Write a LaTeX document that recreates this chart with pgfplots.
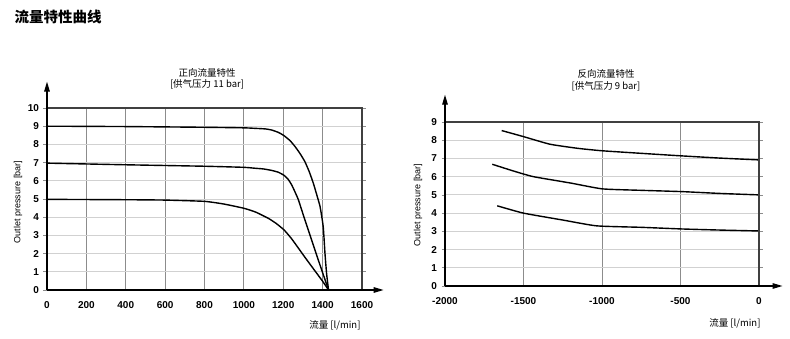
\documentclass[border=0pt]{standalone}
\usepackage{pgfplots}
\pgfplotsset{compat=1.18}
\usepackage{fontspec}
\setmainfont{Liberation Sans}
\newfontfamily\cjk{Noto Sans CJK SC}
\usetikzlibrary{arrows.meta}
\definecolor{vgrid}{gray}{0.55}
\definecolor{hgrid}{gray}{0.82}
\begin{document}
\begin{tikzpicture}
\useasboundingbox (0,0) rectangle (790pt,339pt);
\node[anchor=west, font={\fontsize{14.5}{16}\selectfont\cjk\bfseries}] at (11pt,322pt) {流量特性曲线};
% titles
\node[font={\fontsize{9.5}{11}\selectfont\cjk}] at (207pt,266pt) {正向流量特性};
\node[font={\fontsize{9.5}{11}\selectfont\cjk}] at (207pt,255pt) {[供气压力 11 bar]};
\node[font={\fontsize{9.5}{11}\selectfont\cjk}] at (606pt,265pt) {反向流量特性};
\node[font={\fontsize{9.5}{11}\selectfont\cjk}] at (606pt,253pt) {[供气压力 9 bar]};
% axis labels
\node[rotate=90, font={\fontsize{9}{11}\selectfont}] at (18pt,137pt) {Outlet pressure [bar]};
\node[rotate=90, font={\fontsize{9}{11}\selectfont}] at (418pt,134pt) {Outlet pressure [bar]};
\node[anchor=east, font={\fontsize{9.5}{11}\selectfont\cjk}] at (364pt,14pt) {流量 [l/min]};
\node[anchor=east, font={\fontsize{9.5}{11}\selectfont\cjk}] at (764pt,16pt) {流量 [l/min]};

\pgfplotsset{
  common/.style={
    scale only axis, clip=false,
    axis line style={draw=none},
    xmajorgrids, ymajorgrids,
    x grid style={vgrid, line width=0.8pt},
    y grid style={hgrid, line width=0.8pt},
    tick label style={font=\fontsize{10}{12}\selectfont\bfseries},
    tick align=outside,
    xtick style={draw=none},
    ytick style={vgrid, line width=0.6pt},
    major tick length=3.5pt,
    yticklabel style={xshift=-1pt},
    xticklabel style={yshift=-4pt},
    /pgf/number format/assume math mode=true,
    /pgf/number format/1000 sep={},
  },
  curve/.style={black, line width=1.4pt, smooth, tension=0.3},
}

\begin{axis}[common,
  at={(47pt,49pt)}, anchor=south west,
  width=315pt, height=182pt,
  xmin=0, xmax=1600, ymin=0, ymax=10,
  xtick={0,200,...,1600}, ytick={0,1,...,10},
  xticklabels={0,200,400,600,800,1000,1200,1400,1600},
  yticklabels={0,1,2,3,4,5,6,7,8,9,10},
]
\addplot[curve] coordinates {(0,9.0)(400,8.98)(800,8.94)(1000,8.91)(1060,8.88)(1110,8.85)(1141,8.79)(1175,8.66)(1204,8.48)(1235,8.2)(1260,7.88)(1285,7.5)(1310,7.05)(1332,6.5)(1353,5.86)(1371,5.2)(1387,4.58)(1403,3.48)(1412,2.0)(1420,0.92)(1430,0)};
\addplot[curve] coordinates {(0,6.97)(400,6.88)(800,6.8)(1000,6.74)(1056,6.69)(1100,6.65)(1141,6.57)(1175,6.47)(1204,6.3)(1225,6.08)(1243,5.77)(1260,5.38)(1277,4.95)(1310,3.85)(1344,2.75)(1378,1.65)(1430,0)};
\addplot[curve] coordinates {(0,4.98)(400,4.96)(600,4.94)(800,4.87)(900,4.72)(1000,4.49)(1060,4.28)(1124,3.94)(1165,3.65)(1204,3.30)(1240,2.85)(1275,2.33)(1310,1.80)(1361,1.05)(1400,0.48)(1430,0)};
\draw[black!75, line width=1.1pt] (axis cs:0,10) -- (axis cs:1600,10) -- (axis cs:1600,0);
\draw[black, line width=1.3pt, -{Triangle[length=10pt,width=5.5pt]}] (axis cs:0,0) -- (axis cs:1710,0);
\draw[black, line width=1.3pt, -{Triangle[length=10pt,width=5.5pt]}] (axis cs:0,0) -- (axis cs:0,11.45);
\end{axis}

\begin{axis}[common,
  at={(445pt,53pt)}, anchor=south west,
  width=314pt, height=164pt,
  xmin=-2000, xmax=0, ymin=0, ymax=9,
  xtick={-2000,-1500,-1000,-500,0}, ytick={0,1,...,9},
  xticklabels={-2000,-1500,-1000,-500,0},
  yticklabels={0,1,2,3,4,5,6,7,8,9},
]
\addplot[curve] coordinates {(-1639,8.53)(-1501,8.2)(-1331,7.78)(-1150,7.55)(-998,7.42)(-750,7.28)(-492,7.14)(-250,7.02)(0,6.92)};
\addplot[curve] coordinates {(-1699,6.68)(-1560,6.3)(-1437,6.0)(-1200,5.65)(-998,5.33)(-750,5.25)(-492,5.18)(-250,5.08)(0,5.0)};
\addplot[curve] coordinates {(-1667,4.4)(-1501,4.0)(-1250,3.62)(-1034,3.3)(-750,3.22)(-492,3.13)(-250,3.07)(0,3.02)};
\draw[black!75, line width=1.1pt] (axis cs:-2000,9) -- (axis cs:0,9) -- (axis cs:0,0);
\draw[black, line width=1.3pt, -{Triangle[length=10pt,width=5.5pt]}] (axis cs:-2000,0) -- (axis cs:150,0);
\draw[black, line width=1.3pt, -{Triangle[length=10pt,width=5.5pt]}] (axis cs:-2000,0) -- (axis cs:-2000,10.5);
\end{axis}
\end{tikzpicture}
\end{document}
